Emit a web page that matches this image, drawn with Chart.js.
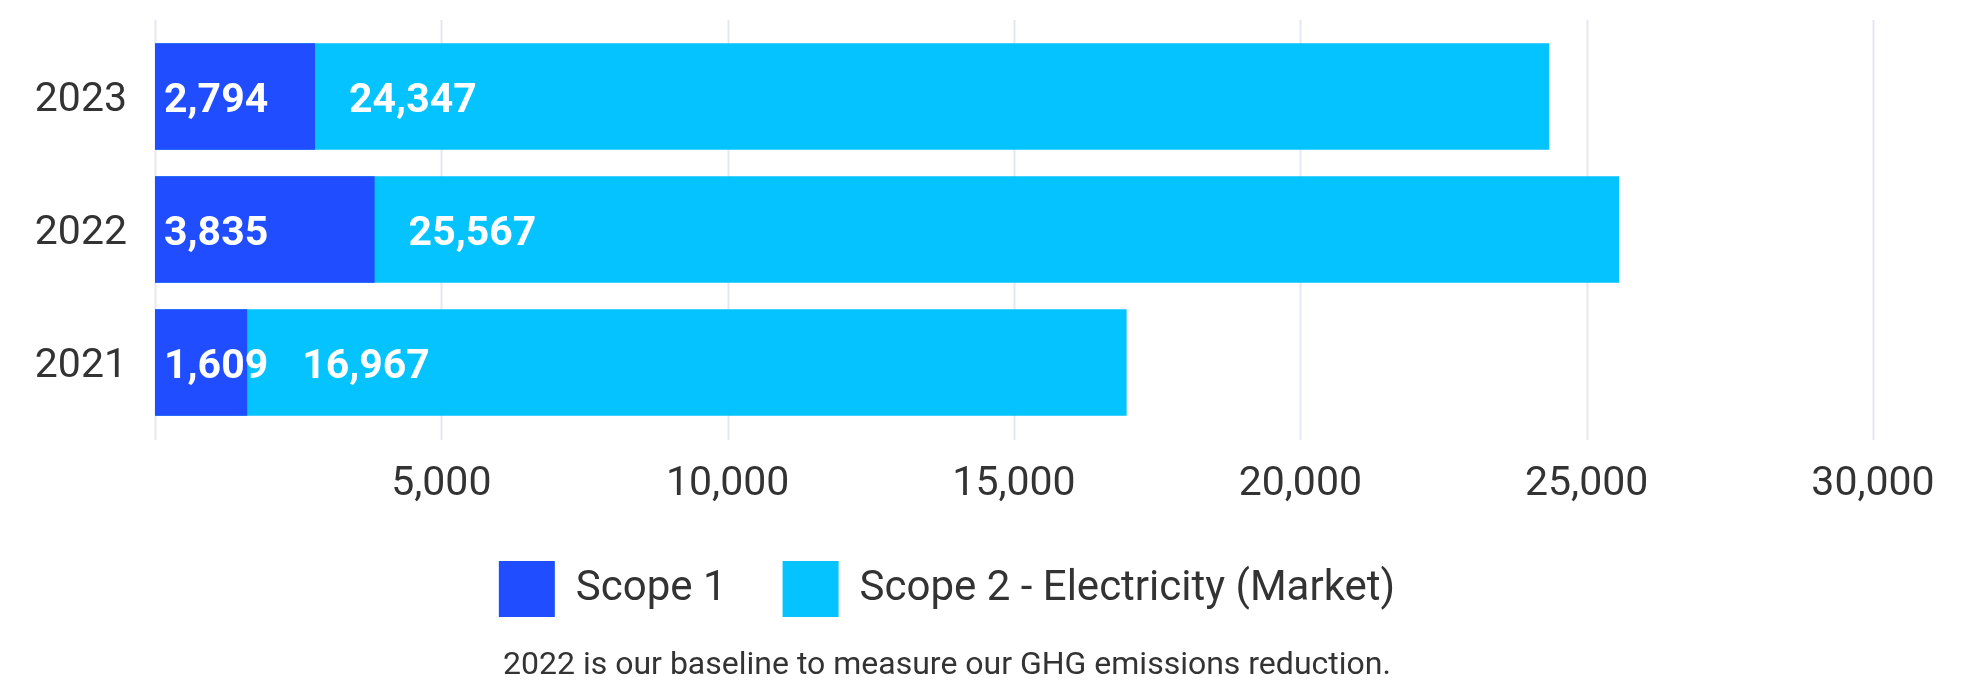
<!DOCTYPE html>
<html>
<head>
<meta charset="utf-8">
<title>GHG emissions by scope</title>
<script src="https://cdn.jsdelivr.net/npm/chart.js@4.4.1/dist/chart.umd.min.js"></script>
<style>
  html, body { margin: 0; padding: 0; background: #ffffff; }
  #wrap { width: 1988px; height: 683px; }
</style>
</head>
<body>
<div id="wrap"><canvas id="chart" width="1988" height="683"></canvas></div>
<script>
// Emissions per year (tCO2e)
const categories = ['2023', '2022', '2021'];
const scope1 = [2794, 3835, 1609];
const scope2 = [24347, 25567, 16967];
const seriesNames = ['Scope 1', 'Scope 2 - Electricity (Market)'];
const seriesColors = ['#1f4dff', '#05c3ff'];
const axisTicks = [0, 5000, 10000, 15000, 20000, 25000, 30000];
const footnote = '2022 is our baseline to measure our GHG emissions reduction.';

const fmt = v => v.toLocaleString('en-US');
const TEXT = '#333333';

Chart.defaults.font.family = 'Roboto, "Noto Sans", sans-serif';
Chart.defaults.color = TEXT;

// Vertical grid lines that run a little past the plot area, behind the bars
const gridPlugin = {
  id: 'softGrid',
  beforeDatasetsDraw(chart) {
    const { ctx, chartArea, scales: { x } } = chart;
    ctx.save();
    ctx.strokeStyle = '#e3e8f1';
    ctx.lineWidth = 2;
    x.ticks.forEach(t => {
      const px = Math.round(x.getPixelForValue(t.value)) + 0.5;
      ctx.beginPath();
      ctx.moveTo(px, chartArea.top - 10);
      ctx.lineTo(px, chartArea.bottom + 11);
      ctx.stroke();
    });
    ctx.restore();
  }
};

// White value labels placed at the start of each bar
const valueLabels = {
  id: 'valueLabels',
  afterDatasetsDraw(chart) {
    const { ctx } = chart;
    const m1 = chart.getDatasetMeta(0);
    const m2 = chart.getDatasetMeta(1);
    ctx.save();
    ctx.font = 'bold 41px Roboto, "Noto Sans", sans-serif';
    ctx.fillStyle = '#ffffff';
    ctx.textAlign = 'left';
    ctx.textBaseline = 'middle';
    m1.data.forEach((bar1, i) => {
      const base = Math.min(bar1.base, bar1.x);
      const t1 = fmt(chart.data.datasets[0].data[i]);
      const x1 = base + 9;
      ctx.fillText(t1, x1, bar1.y + 5);
      const end1 = Math.max(bar1.x, x1 + ctx.measureText(t1).width);
      const bar2 = m2.data[i];
      const t2 = fmt(chart.data.datasets[1].data[i]);
      ctx.fillText(t2, end1 + 34, bar2.y + 5);
    });
    ctx.restore();
  }
};

new Chart(document.getElementById('chart'), {
  type: 'bar',
  data: {
    labels: categories,
    datasets: [
      { label: seriesNames[0], data: scope1, backgroundColor: seriesColors[0], borderWidth: 0 },
      { label: seriesNames[1], data: scope2, backgroundColor: seriesColors[1], borderWidth: 0 }
    ]
  },
  options: {
    indexAxis: 'y',
    responsive: false,
    animation: false,
    devicePixelRatio: 1,
    barPercentage: 0.8,
    categoryPercentage: 1.0,
    layout: { padding: { top: 30, left: 21, right: 115, bottom: 1 } },
    scales: {
      y: {
        stacked: true,
        grid: { display: false, drawTicks: false },
        border: { display: false },
        ticks: { font: { size: 41 }, color: TEXT, padding: 28, labelOffset: 4 },
        afterFit(scale) {
          scale.width = 134;
          scale.paddingTop = 0;
          scale.paddingBottom = 0;
        }
      },
      x: {
        stacked: false,
        min: 0,
        max: 30000,
        grid: { display: false, drawTicks: false },
        border: { display: false },
        afterBuildTicks(scale) { scale.ticks = axisTicks.map(v => ({ value: v })); },
        ticks: {
          font: { size: 41 },
          color: TEXT,
          padding: 31,
          maxRotation: 0,
          autoSkip: false,
          callback: v => (v === 0 ? '' : fmt(v))
        },
        afterFit(scale) { scale.height = 76; }
      }
    },
    plugins: {
      legend: {
        position: 'bottom',
        labels: {
          boxWidth: 56,
          boxHeight: 56,
          padding: 56,
          color: TEXT,
          font: { size: 42 }
        }
      },
      title: {
        display: true,
        position: 'bottom',
        text: footnote,
        color: TEXT,
        font: { size: 32, weight: 'normal', lineHeight: 1.0 },
        padding: { top: 23, bottom: 0 }
      },
      tooltip: { enabled: false }
    }
  },
  plugins: [gridPlugin, valueLabels]
});
</script>
</body>
</html>
